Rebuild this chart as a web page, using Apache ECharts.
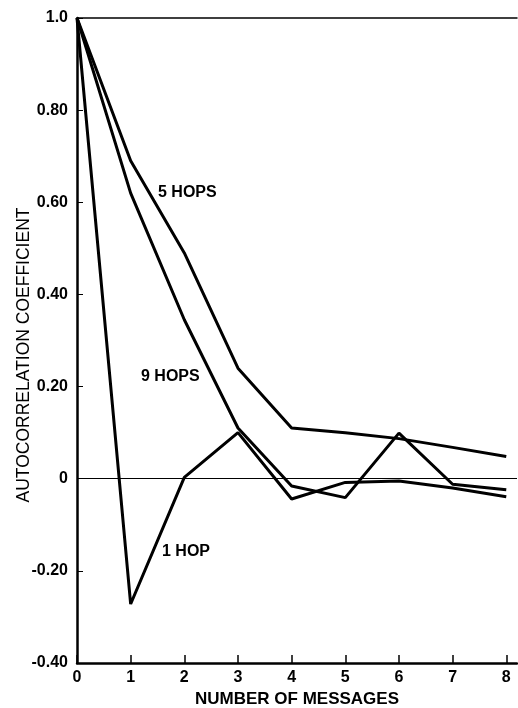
<!DOCTYPE html>
<html>
<head>
<meta charset="utf-8">
<script src="https://cdn.jsdelivr.net/npm/echarts@6/dist/echarts.min.js"></script>
<style>
  html, body { margin: 0; padding: 0; background: #fff; }
  #chart { width: 518px; height: 708px; }
</style>
</head>
<body>
<div id="chart"></div>
<script>
// number of messages (lag)
var lags = [0, 1, 2, 3, 4, 5, 6, 7, 8];
// autocorrelation coefficient
var hops5 = [1.0, 0.69, 0.49, 0.24, 0.11, 0.10, 0.087, 0.068, 0.048];
var hops9 = [1.0, 0.62, 0.345, 0.11, -0.016, -0.041, 0.099, -0.012, -0.024];
var hop1 = [1.0, -0.272, 0.003, 0.10, -0.044, -0.008, -0.005, -0.02, -0.039];
var seriesNames = ['5 HOPS', '9 HOPS', '1 HOP'];
var yTitle = 'AUTOCORRELATION COEFFICIENT';

var font = 'Liberation Sans, Arial, sans-serif';

function pairs(vals) {
    return lags.map(function (x, i) { return [x, vals[i]]; });
}

var myChart = echarts.init(document.getElementById('chart'));

var lineStyle = { color: '#000', width: 3 };

var option = {
    animation: false,
    backgroundColor: '#fff',
    grid: { left: 77, right: 1, top: 18, bottom: 45, outerBoundsMode: 'none' },
    xAxis: [{
        type: 'value',
        min: 0,
        max: 8.2,
        interval: 1,
        name: 'NUMBER OF MESSAGES',
        nameLocation: 'middle',
        nameGap: 27,
        nameTextStyle: { color: '#000', fontFamily: font, fontWeight: 'bold', fontSize: 17 },
        axisLine: { onZero: false, lineStyle: { color: '#000', width: 2.5 } },
        axisTick: { inside: true, length: 8, lineStyle: { color: '#000', width: 1.5 }, customValues: lags },
        axisLabel: { color: '#000', fontFamily: font, fontWeight: 'bold', fontSize: 16, margin: 7, customValues: lags },
        splitLine: { show: false }
    }, {
        type: 'value',
        position: 'top',
        min: 0,
        max: 8.2,
        axisLine: { show: true, onZero: false, lineStyle: { color: '#000', width: 1.5 } },
        axisTick: { show: false },
        axisLabel: { show: false },
        splitLine: { show: false }
    }],
    yAxis: {
        type: 'value',
        min: -0.4,
        max: 1.0,
        interval: 0.2,
        axisLine: { show: true, lineStyle: { color: '#000', width: 2.5 } },
        axisTick: { show: true, inside: true, length: 6, lineStyle: { color: '#000', width: 1 } },
        axisLabel: {
            color: '#000', fontFamily: font, fontWeight: 'bold', fontSize: 16, margin: 9,
            formatter: function (v) {
                if (Math.abs(v) < 1e-9) return '0';
                if (Math.abs(v - 1) < 1e-9) return '1.0';
                return v.toFixed(2);
            }
        },
        splitLine: { show: false }
    },
    graphic: [
        {
            type: 'text', x: 24, y: 355, rotation: Math.PI / 2,
            style: { text: yTitle, fill: '#000', font: '17.5px ' + font, align: 'center', verticalAlign: 'middle' }
        },
        { type: 'text', left: 158, top: 185, style: { text: seriesNames[0], fill: '#000', font: 'bold 16px ' + font } },
        { type: 'text', left: 141, top: 369, style: { text: seriesNames[1], fill: '#000', font: 'bold 16px ' + font } },
        { type: 'text', left: 162, top: 544, style: { text: seriesNames[2], fill: '#000', font: 'bold 16px ' + font } }
    ],
    series: [
        {
            name: seriesNames[0], type: 'line', data: pairs(hops5), showSymbol: false, lineStyle: lineStyle,
            markLine: {
                silent: true, symbol: 'none', label: { show: false },
                lineStyle: { color: '#000', width: 1, type: 'solid' },
                data: [{ yAxis: 0 }]
            }
        },
        { name: seriesNames[1], type: 'line', data: pairs(hops9), showSymbol: false, lineStyle: lineStyle },
        { name: seriesNames[2], type: 'line', data: pairs(hop1), showSymbol: false, lineStyle: lineStyle }
    ]
};

myChart.setOption(option);
</script>
</body>
</html>
